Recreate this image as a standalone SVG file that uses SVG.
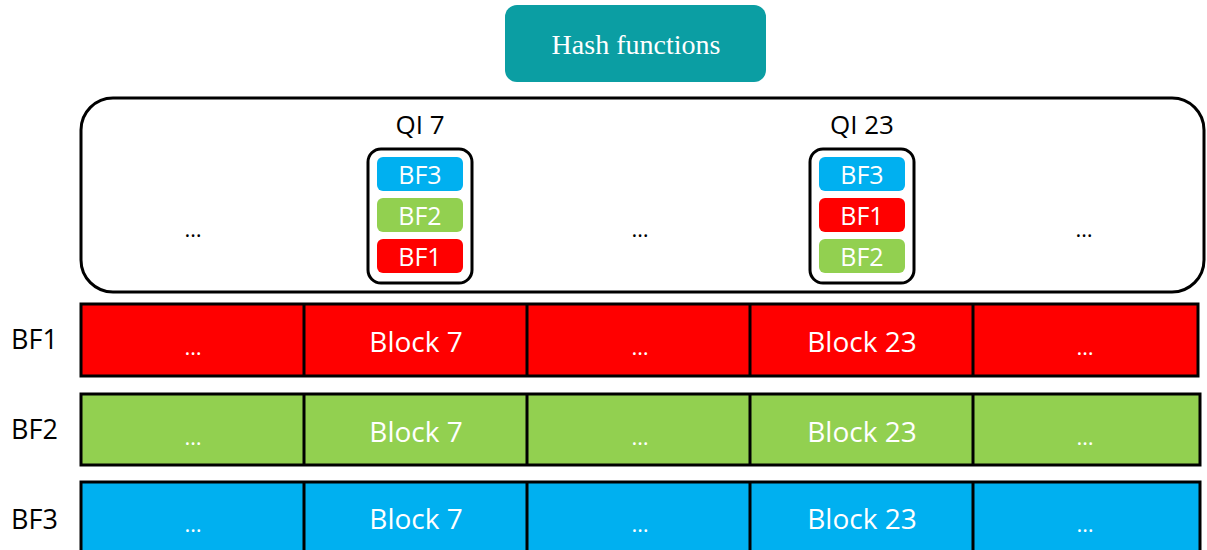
<svg xmlns="http://www.w3.org/2000/svg" width="1207" height="550" viewBox="0 0 1207 550">
  <style>
    .sans { font-family: "Open Sans", "Liberation Sans", sans-serif; }
    .lbl { font-size: 27px; fill: #000; }
    .qi { font-size: 26px; fill: #000; text-anchor: middle; }
    .cell-txt { font-size: 28px; fill: #fff; text-anchor: middle; dominant-baseline: central; }
    .pill-txt { font-size: 25px; fill: #fff; text-anchor: middle; dominant-baseline: central; }
    .dots { font-size: 22px; text-anchor: middle; }
    .red { fill: #ff0000; }
    .green { fill: #92d050; }
    .blue { fill: #00b0f0; }
    .bar { stroke: #000; stroke-width: 3; }
    .div { stroke: #000; stroke-width: 3; }
  </style>
  <rect width="1207" height="550" fill="#fff"/>

  <!-- Hash functions header -->
  <g id="hash-functions">
    <rect x="505" y="5" width="261" height="77" rx="12" fill="#0b9ea3"/>
    <text x="636" y="54" font-family="'Liberation Serif', serif" font-size="28" fill="#fff" text-anchor="middle">Hash functions</text>
  </g>

  <!-- Query index container -->
  <g id="qi-container">
    <rect x="81" y="98" width="1123" height="194" rx="32" fill="none" stroke="#000" stroke-width="3"/>
    <text class="sans dots" x="193" y="237" fill="#000">…</text>
    <text class="sans dots" x="640" y="237" fill="#000">…</text>
    <text class="sans dots" x="1084" y="237" fill="#000">…</text>
  </g>

  <g id="qi-7">
    <text class="sans qi" x="420" y="134">QI 7</text>
    <rect x="368" y="149" width="104" height="134" rx="13" fill="#fff" stroke="#000" stroke-width="3"/>
    <rect class="blue" x="377" y="157" width="86" height="34" rx="6"/>
    <text class="sans pill-txt" x="420" y="174">BF3</text>
    <rect class="green" x="377" y="198" width="86" height="34" rx="6"/>
    <text class="sans pill-txt" x="420" y="215">BF2</text>
    <rect class="red" x="377" y="239" width="86" height="34" rx="6"/>
    <text class="sans pill-txt" x="420" y="256">BF1</text>
  </g>

  <g id="qi-23">
    <text class="sans qi" x="862" y="134">QI 23</text>
    <rect x="810" y="149" width="104" height="134" rx="13" fill="#fff" stroke="#000" stroke-width="3"/>
    <rect class="blue" x="819" y="157" width="86" height="34" rx="6"/>
    <text class="sans pill-txt" x="862" y="174">BF3</text>
    <rect class="red" x="819" y="198" width="86" height="34" rx="6"/>
    <text class="sans pill-txt" x="862" y="215">BF1</text>
    <rect class="green" x="819" y="239" width="86" height="34" rx="6"/>
    <text class="sans pill-txt" x="862" y="256">BF2</text>
  </g>

  <!-- Bloom filter rows -->
  <g id="bf1">
    <text class="sans lbl" x="11" y="349">BF1</text>
    <rect class="red bar" x="81" y="304" width="1117" height="72"/>
    <line class="div" x1="304" y1="304" x2="304" y2="376"/>
    <line class="div" x1="527" y1="304" x2="527" y2="376"/>
    <line class="div" x1="750" y1="304" x2="750" y2="376"/>
    <line class="div" x1="973" y1="304" x2="973" y2="376"/>
    <text class="sans dots" x="193" y="355" fill="#fff">…</text>
    <text class="sans cell-txt" x="416" y="341">Block 7</text>
    <text class="sans dots" x="640" y="355" fill="#fff">…</text>
    <text class="sans cell-txt" x="862" y="341">Block 23</text>
    <text class="sans dots" x="1085" y="355" fill="#fff">…</text>
  </g>

  <g id="bf2">
    <text class="sans lbl" x="11" y="439">BF2</text>
    <rect class="green bar" x="81" y="394" width="1119" height="71"/>
    <line class="div" x1="304" y1="394" x2="304" y2="465"/>
    <line class="div" x1="527" y1="394" x2="527" y2="465"/>
    <line class="div" x1="750" y1="394" x2="750" y2="465"/>
    <line class="div" x1="973" y1="394" x2="973" y2="465"/>
    <text class="sans dots" x="193" y="445" fill="#fff">…</text>
    <text class="sans cell-txt" x="416" y="431">Block 7</text>
    <text class="sans dots" x="640" y="445" fill="#fff">…</text>
    <text class="sans cell-txt" x="862" y="431">Block 23</text>
    <text class="sans dots" x="1085" y="445" fill="#fff">…</text>
  </g>

  <g id="bf3">
    <text class="sans lbl" x="11" y="529">BF3</text>
    <rect class="blue bar" x="81" y="482" width="1119" height="80"/>
    <line class="div" x1="304" y1="482" x2="304" y2="552"/>
    <line class="div" x1="527" y1="482" x2="527" y2="552"/>
    <line class="div" x1="750" y1="482" x2="750" y2="552"/>
    <line class="div" x1="973" y1="482" x2="973" y2="552"/>
    <text class="sans dots" x="193" y="532" fill="#fff">…</text>
    <text class="sans cell-txt" x="416" y="518">Block 7</text>
    <text class="sans dots" x="640" y="532" fill="#fff">…</text>
    <text class="sans cell-txt" x="862" y="518">Block 23</text>
    <text class="sans dots" x="1085" y="532" fill="#fff">…</text>
  </g>

  <!-- no connectors in this figure -->
  <g id="connectors"/>
</svg>
